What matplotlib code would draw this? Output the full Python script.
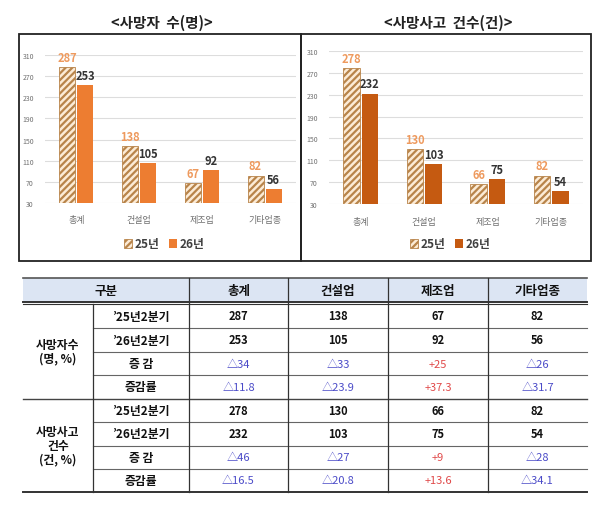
import matplotlib
matplotlib.use("Agg")
import matplotlib.pyplot as plt
import matplotlib.patches as mpatches
import numpy as np

plt.rcParams['font.family'] = ['Noto Sans CJK KR', 'DejaVu Sans']
plt.rcParams['hatch.linewidth'] = 1.6

# ===== data =====
categories = ["총계", "건설업", "제조업", "기타업종"]
deaths_25 = [287, 138, 67, 82]
deaths_26 = [253, 105, 92, 56]
accidents_25 = [278, 130, 66, 82]
accidents_26 = [232, 103, 75, 54]
yticks = [30, 70, 110, 150, 190, 230, 270, 310]

table_header = ["구분", "총계", "건설업", "제조업", "기타업종"]
group_labels = ["사망자수\n(명, %)", "사망사고\n건수\n(건, %)"]
row_labels = ["’25년2분기", "’26년2분기", "증 감", "증감률"]
table_rows = [
    ["287", "138", "67", "82"],
    ["253", "105", "92", "56"],
    ["△34", "△33", "+25", "△26"],
    ["△11.8", "△23.9", "+37.3", "△31.7"],
    ["278", "130", "66", "82"],
    ["232", "103", "75", "54"],
    ["△46", "△27", "+9", "△28"],
    ["△16.5", "△20.8", "+13.6", "△34.1"],
]

fig = plt.figure(figsize=(6, 5.06), dpi=100)

# overlay in pixel coords for boxes and table
ov = fig.add_axes([0, 0, 1, 1])
ov.set_xlim(0, 600)
ov.set_ylim(506, 0)
ov.axis("off")

# chart boxes
ov.add_patch(mpatches.Rectangle((19, 35), 282, 227, fill=False, ec="#222222", lw=1.3))
ov.add_patch(mpatches.Rectangle((301, 35), 290, 227, fill=False, ec="#222222", lw=1.3))


def draw_chart(rect, v25, v26, col26, title, title_x, legend_x):
    ax = fig.add_axes(rect)
    x = np.arange(len(categories))
    w = 0.255
    ax.bar(x - 0.145, v25, w, color="#FCEBD6", edgecolor="#B8844A", hatch="/////", lw=0.6, zorder=3)
    ax.bar(x + 0.145, v26, w, color=col26, zorder=3)
    for i in range(len(x)):
        ax.text(x[i] - 0.145, v25[i] + 6, str(v25[i]), ha="center", va="bottom",
                fontsize=8, fontweight="bold", color="#EE9A5E", clip_on=False)
        ax.text(x[i] + 0.145, v26[i] + 6, str(v26[i]), ha="center", va="bottom",
                fontsize=8, fontweight="bold", color="#333333", clip_on=False)
    ax.set_ylim(30, 310)
    ax.set_xlim(-0.5, 3.5)
    ax.set_yticks(yticks)
    ax.set_xticks(x)
    ax.set_xticklabels(categories, fontsize=6.5, color="#707070")
    ax.tick_params(axis="y", labelsize=5, colors="#707070", length=0, pad=8)
    ax.tick_params(axis="x", length=0, pad=9)
    ax.grid(axis="y", color="#DDDDDD", lw=0.8, zorder=0)
    for s in ax.spines.values():
        s.set_visible(False)
    fig.text(title_x / 600, 1 - 23 / 506, title, ha="center", va="center",
             fontsize=10.5, fontweight="bold", color="#222222")
    h1 = mpatches.Patch(facecolor="#FCEBD6", edgecolor="#B8844A", hatch="/////", lw=0.6)
    h2 = mpatches.Patch(facecolor=col26)
    fig.legend([h1, h2], ["25년", "26년"], loc="center",
               bbox_to_anchor=(legend_x / 600, 1 - 245 / 506), ncol=2, frameon=False,
               handlelength=0.7, handleheight=0.7, handletextpad=0.2, columnspacing=0.8,
               prop={"size": 8.5, "weight": "bold"}, labelcolor="#404040")


draw_chart([45 / 600, 1 - 204 / 506, 251 / 600, 148 / 506], deaths_25, deaths_26,
           "#ED7D31", "<사망자  수(명)>", 162, 164)
draw_chart([329 / 600, 1 - 205 / 506, 254 / 600, 153 / 506], accidents_25, accidents_26,
           "#C55A11", "<사망사고  건수(건)>", 448, 450)

# ===== table =====
col_x = [23, 93, 189, 288, 388, 488, 587]
row_y = [279, 305, 329, 353, 376, 400, 423, 447, 470, 493]

ov.add_patch(mpatches.Rectangle((col_x[0], row_y[0]), col_x[-1] - col_x[0], row_y[1] - row_y[0] - 2,
                                color="#DCE5F3", lw=0, zorder=0))
ov.plot([col_x[0], col_x[-1]], [row_y[0], row_y[0]], color="#555555", lw=1.2)
ov.plot([col_x[0], col_x[-1]], [302.8, 302.8], color="#333333", lw=1.4)
ov.plot([col_x[0], col_x[-1]], [305.3, 305.3], color="#333333", lw=0.8)
ov.plot([col_x[0], col_x[-1]], [row_y[-1], row_y[-1]], color="#333333", lw=1.4)
ov.plot([col_x[0], col_x[-1]], [row_y[5], row_y[5]], color="#444444", lw=1.0)
for j in [2, 3, 4, 6, 7, 8]:
    ov.plot([col_x[1], col_x[-1]], [row_y[j], row_y[j]], color="#666666", lw=0.8)
ov.plot([col_x[1], col_x[1]], [305.3, row_y[-1]], color="#333333", lw=0.9)
for c in [2, 3, 4, 5]:
    ov.plot([col_x[c], col_x[c]], [row_y[0], row_y[-1]], color="#333333", lw=0.9)

ov.text((col_x[0] + col_x[2]) / 2, (row_y[0] + row_y[1]) / 2 - 1, table_header[0],
        ha="center", va="center", fontsize=9, fontweight="bold", color="#111111")
for k in range(1, 5):
    ov.text((col_x[k + 1] + col_x[k + 2]) / 2, (row_y[0] + row_y[1]) / 2 - 1, table_header[k],
            ha="center", va="center", fontsize=9, fontweight="bold", color="#111111")

for g in range(2):
    yc = (row_y[1 + 4 * g] + row_y[5 + 4 * g]) / 2
    ov.text((col_x[0] + col_x[1]) / 2, yc, group_labels[g], ha="center", va="center",
            fontsize=8.5, fontweight="bold", color="#111111", linespacing=1.05)

for r in range(8):
    yc = (row_y[r + 1] + row_y[r + 2]) / 2
    ov.text((col_x[1] + col_x[2]) / 2, yc, row_labels[r % 4], ha="center", va="center",
            fontsize=8.5, fontweight="bold", color="#111111")
    for k in range(4):
        val = table_rows[r][k]
        if val.startswith("△"):
            col, wt = "#4B4BC8", "normal"
        elif val.startswith("+"):
            col, wt = "#E04848", "normal"
        else:
            col, wt = "#111111", "bold"
        ov.text((col_x[k + 2] + col_x[k + 3]) / 2, yc, val, ha="center", va="center",
                fontsize=8, fontweight=wt, color=col)

fig.savefig("out.png", dpi=100)
